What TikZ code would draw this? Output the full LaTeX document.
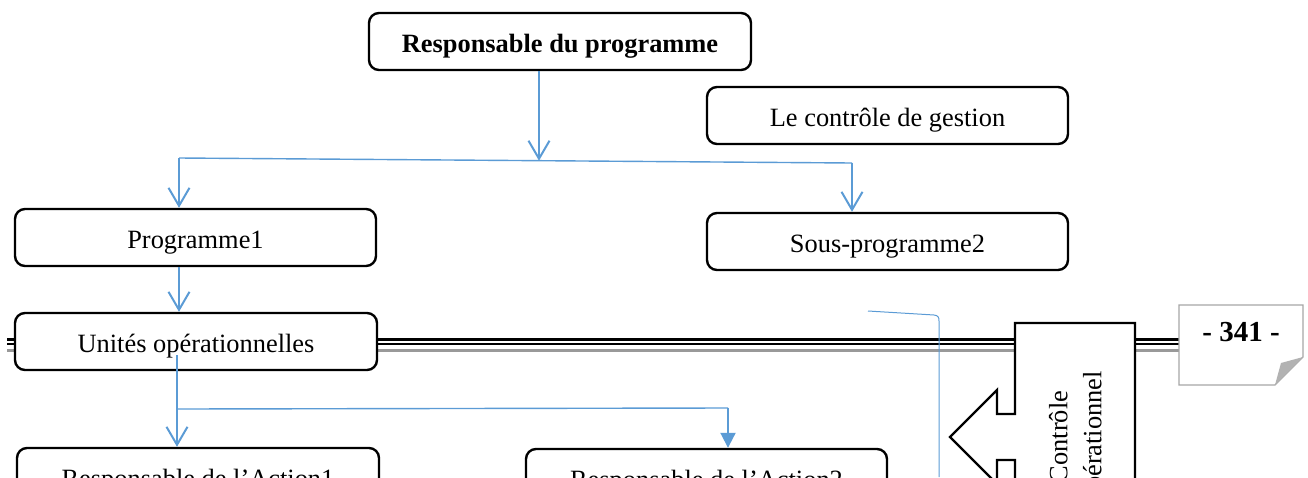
\documentclass[tikz,border=0pt]{standalone}
\usepackage{fontspec}
\setmainfont{Liberation Serif}
\usetikzlibrary{arrows.meta}
\definecolor{wblue}{RGB}{91,155,213}
\begin{document}
\begin{tikzpicture}[x=1pt,y=-1pt,
  box/.style={draw=black,line width=2.4pt,fill=white,rounded corners=10pt,
    minimum width=361pt,minimum height=57pt,inner sep=0pt,
    text height=22pt,text depth=1pt,
    font=\fontsize{26.4}{30}\selectfont},
  bline/.style={draw=wblue,line width=2pt},
  hline/.style={draw=wblue,line width=1.4pt},
  barb/.style={bline,-{Straight Barb[length=18pt,width=21pt]}},
  tri/.style={bline,-{Triangle[length=15pt,width=15pt]}}]
\useasboundingbox (0,0) rectangle (1308,477);
\clip (0,0) rectangle (1308,477);
% triple rule
\draw[black,line width=3pt] (7,339.7) -- (1180,339.7);
\draw[black,line width=1.8pt] (7,344.3) -- (1180,344.3);
\draw[black!40,line width=2.6pt] (7,350.6) -- (1180,350.6);
% boxes
\node[box,minimum width=382pt,font=\fontsize{26.4}{30}\selectfont\bfseries] (resp) at (560,41.5) {Responsable du programme};
\node[box] (ctrl) at (887.5,115.5) {Le contrôle de gestion};
\node[box] (prog1) at (195.5,237.5) {Programme1};
\node[box] (sous) at (887.5,241.5) {Sous-programme2};
\node[box,minimum width=362pt] (unites) at (196,341.5) {Unités opérationnelles};
\node[box,minimum width=362pt] (act1) at (198,476.5) {Responsable de l’Action1};
\node[box] (act2) at (706.5,477.5) {Responsable de l’Action2};
% connectors
\coordinate (hl) at (179,158);
\coordinate (hr) at (852,163);
\coordinate (j1) at (539,160.7);
\draw[barb] (resp.south -| j1) -- (j1);
\draw[hline] (hl) -- (hr);
\draw[barb] (hl) -- (hl |- prog1.north);
\draw[barb] (hr) -- (hr |- sous.north);
\draw[barb] (prog1.south -| hl) -- (unites.north -| hl);
\coordinate (u1) at (177,355);
\coordinate (h2l) at (177,409);
\coordinate (h2r) at (728,408);
\draw[barb] (u1) -- (u1 |- act1.north);
\draw[hline] (h2l) -- (h2r);
\draw[tri] (h2r) -- (h2r |- act2.north);
% thin bracket
\coordinate (b1) at (868,311);
\coordinate (b2) at (939,477);
\draw[wblue,line width=1pt] (b1) -- (934,315) .. controls (938,315.5) and (939,317) .. (939,321) -- (b2);
% block arrow callout
\draw[black,line width=2.4pt,fill=white,line join=miter]
  (1015,323) -- (1135,323) -- (1135,551) -- (1015,551) -- (1015,460) -- (997,460)
  -- (997,484) -- (950,437) -- (997,390) -- (997,414) -- (1015,414) -- cycle;
\node[rotate=90,align=center,font=\fontsize{26.4}{34}\selectfont] (ctrlop) at (1078,437) {Contrôle\\opérationnel};
% page number
\draw[black!35,line width=1.2pt,fill=white]
  (1179,305) -- (1303,305) -- (1303,357) -- (1275,385) -- (1179,385) -- cycle;
\fill[black!30] (1303,357) -- (1275,385) -- (1281,363) -- cycle;
\node[font=\fontsize{29}{32}\selectfont\bfseries] (page) at (1241,332) {- 341 -};
\end{tikzpicture}
\end{document}
